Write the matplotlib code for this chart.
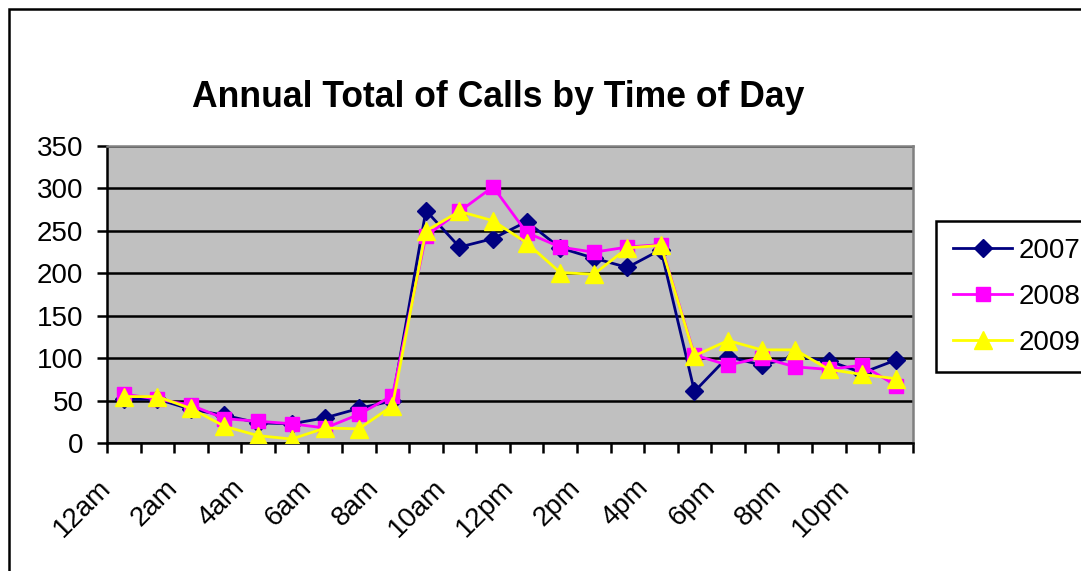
import matplotlib
matplotlib.use("Agg")
import matplotlib.pyplot as plt
import numpy as np
from matplotlib.patches import Rectangle

plt.rcParams['font.family'] = ['Liberation Sans', 'DejaVu Sans']

# DATA
hours = ['12am', '1am', '2am', '3am', '4am', '5am', '6am', '7am', '8am', '9am', '10am', '11am',
         '12pm', '1pm', '2pm', '3pm', '4pm', '5pm', '6pm', '7pm', '8pm', '9pm', '10pm', '11pm']
calls_2007 = [52, 52, 40, 33, 24, 23, 30, 41, 50, 274, 231, 241,
              261, 230, 218, 207, 228, 61, 102, 92, 102, 97, 83, 98]
calls_2008 = [58, 52, 45, 29, 26, 23, 18, 34, 56, 244, 273, 302,
              248, 231, 225, 231, 234, 104, 92, 101, 90, 87, 92, 68]
calls_2009 = [55, 55, 41, 20, 9, 5, 18, 17, 44, 250, 273, 262,
              236, 201, 199, 230, 233, 103, 121, 110, 110, 87, 81, 76]
yticks = [0, 50, 100, 150, 200, 250, 300, 350]

# FIGURE
W, H = 1081, 571
fig = plt.figure(figsize=(W / 100, H / 100), dpi=100)
ax = fig.add_axes([107 / W, 1 - 443.3 / H, (912.7 - 107) / W, (443.3 - 146) / H])

x = np.arange(len(hours))
ax.plot(x, calls_2007, color='#000080', marker='D', markersize=9, linewidth=2, label='2007', zorder=3)
ax.plot(x, calls_2008, color='#FF00FF', marker='s', markersize=10, linewidth=2, label='2008', zorder=4)
ax.plot(x, calls_2009, color='#FFFF00', marker='^', markersize=12.5, linewidth=2, label='2009', zorder=5)

# AXES DESIGN
ax.set_facecolor('#C0C0C0')
ax.set_xlim(-0.5, len(hours) - 0.5)
ax.set_ylim(0, 350)
ax.set_yticks(yticks)
ax.set_yticklabels([str(v) for v in yticks], fontsize=20)
ax.yaxis.grid(True, color='black', linewidth=1.8)
ax.set_axisbelow(True)
ax.tick_params(axis='y', length=7, width=1.8, pad=10, direction='out')

ax.set_xticks(x[::2])
ax.set_xticklabels(hours[::2], fontsize=20, rotation=45, ha='right', va='center',
                   rotation_mode='anchor')
ax.tick_params(axis='x', which='major', length=0, pad=29)
ax.set_xticks(np.arange(-0.5, len(hours)), minor=True)
ax.tick_params(axis='x', which='minor', length=7, width=1.8, direction='out')
offset = matplotlib.transforms.ScaledTranslation(-17 / 100, 0, fig.dpi_scale_trans)
for lab in ax.get_xticklabels():
    lab.set_transform(lab.get_transform() + offset)

ax.spines['left'].set_color('black')
ax.spines['left'].set_linewidth(1.8)
ax.spines['bottom'].set_color('black')
ax.spines['bottom'].set_linewidth(1.8)
ax.spines['top'].set_color('#808080')
ax.spines['top'].set_linewidth(1.8)
ax.spines['right'].set_color('#808080')
ax.spines['right'].set_linewidth(1.8)

# TITLE
fig.text(498.5 / W, 1 - 106.7 / H, 'Annual Total of Calls by Time of Day', fontsize=25.6,
         fontweight='bold', ha='center', va='baseline')

# LEGEND (runs off the right edge, as in the original)
leg = fig.legend(loc='upper left', bbox_to_anchor=(936 / W, 1 - 221 / H), fontsize=20,
                 frameon=True, fancybox=False, framealpha=1, edgecolor='black',
                 handlelength=2.15, handletextpad=0.22, borderpad=0.6, labelspacing=0.72,
                 borderaxespad=0)
leg.get_frame().set_linewidth(1.8)

# CHART AREA BORDER
fig.patches.append(Rectangle((9 / W, -0.1), 1.2, 1.1 - 9 / H, transform=fig.transFigure,
                             fill=False, edgecolor='black', linewidth=1.8))

fig.savefig('out.png', dpi=100, facecolor='white')
